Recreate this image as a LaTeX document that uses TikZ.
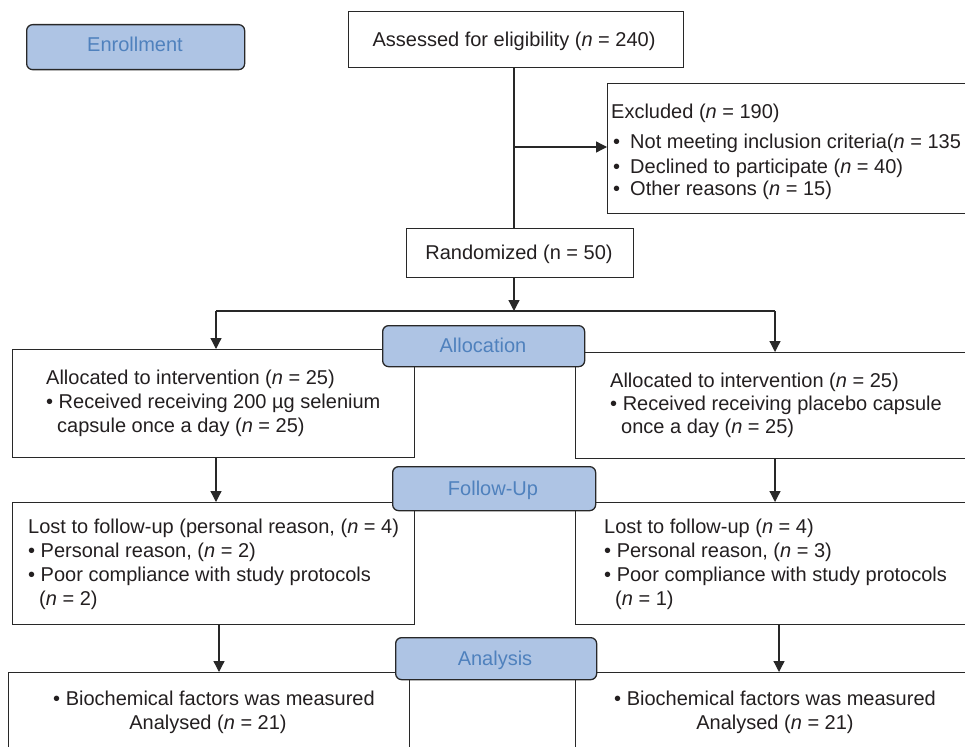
\documentclass[tikz,border=0pt]{standalone}
\usepackage{fontspec}
\setmainfont{Liberation Sans}
\usetikzlibrary{arrows.meta}
\definecolor{ln}{RGB}{40,40,40}
\definecolor{stagefill}{RGB}{174,196,228}
\definecolor{stagetext}{RGB}{79,129,189}
\definecolor{txt}{RGB}{35,31,32}
\newcommand{\nn}{\textit{n}}
\begin{document}
\begin{tikzpicture}[x=1pt,y=-1pt,
  box/.style={draw=ln, line width=1.3pt, fill=white, inner sep=0pt, anchor=north west},
  stage/.style={draw=ln, line width=1.3pt, fill=stagefill, rounded corners=6pt, inner sep=0pt, anchor=north west},
  lbl/.style={font=\fontsize{20}{23}\selectfont, text=txt, inner sep=0pt, anchor=base west},
  clbl/.style={lbl, anchor=base},
  stlbl/.style={font=\fontsize{20}{23}\selectfont, text=stagetext, inner sep=0pt, anchor=base},
  conn/.style={draw=ln, line width=1.3pt},
  arr/.style={conn, -{Triangle[length=11pt,width=11pt]}}]
\useasboundingbox (0,0) rectangle (965,746);
\clip (0,0) rectangle (965,746);
\fill[white] (0,0) rectangle (965,746);

% white boxes
\node[box, minimum width=335pt, minimum height=56pt] (assess) at (348,11) {};
\node[box, minimum width=400pt, minimum height=130pt] (excl) at (607,83) {};
\node[box, minimum width=227pt, minimum height=49pt] (rand) at (406,228) {};
\node[box, minimum width=402pt, minimum height=108pt] (allocL) at (12,349) {};
\node[box, minimum width=400pt, minimum height=106pt] (allocR) at (575,352) {};
\node[box, minimum width=402pt, minimum height=122pt] (lostL) at (12,502) {};
\node[box, minimum width=400pt, minimum height=122pt] (lostR) at (575,502) {};
\node[box, minimum width=401pt, minimum height=100pt] (finL) at (8,672) {};
\node[box, minimum width=400pt, minimum height=100pt] (finR) at (575,672) {};

% connectors
\coordinate (spine) at (514,0);
\coordinate (jx) at (514,147);
\coordinate (split) at (514,311);
\coordinate (splitL) at (216,311);
\coordinate (splitR) at (775,311);
\coordinate (colL) at (219,0);
\coordinate (colR) at (779,0);
\draw[conn] (assess.south -| spine) -- (rand.north -| spine);
\draw[arr] (jx) -- (jx -| excl.west);
\draw[arr] (rand.south -| spine) -- (split);
\draw[conn] (splitL) -- (splitR);
\draw[arr] (splitL) -- (splitL |- allocL.north);
\draw[arr] (splitR) -- (splitR |- allocR.north);
\draw[arr] (allocL.south -| splitL) -- (lostL.north -| splitL);
\draw[arr] (allocR.south -| splitR) -- (lostR.north -| splitR);
\draw[arr] (lostL.south -| colL) -- (finL.north -| colL);
\draw[arr] (lostR.south -| colR) -- (finR.north -| colR);

% stage boxes
\node[stage, minimum width=218pt, minimum height=45pt] (enroll) at (26,24) {};
\node[stage, minimum width=202pt, minimum height=41pt] (alloc) at (382,325) {};
\node[stage, minimum width=203pt, minimum height=44pt] (follow) at (392,466) {};
\node[stage, minimum width=201pt, minimum height=42pt] (analysis) at (395,637) {};

% stage labels
\node[stlbl] (tenroll) at (135,52) {Enrollment};
\node[stlbl] (talloc) at (483,352) {Allocation};
\node[stlbl] (tfollow) at (493,495) {Follow-Up};
\node[stlbl] (tanalysis) at (495,665) {Analysis};

% texts
\node[clbl] (tassess) at (514,47) {Assessed for eligibility (\nn{} = 240)};
\node[lbl] (te1) at (611,119) {Excluded (\nn{} = 190)};
\node[lbl] (te2) at (613,149) {\makebox[17pt][l]{•}Not meeting inclusion criteria(\nn{} = 135};
\node[lbl] (te3) at (613,173) {\makebox[17pt][l]{•}Declined to participate (\nn{} = 40)};
\node[lbl] (te4) at (613,195) {\makebox[17pt][l]{•}Other reasons (\nn{} = 15)};
\node[clbl] (trand) at (519,259) {Randomized (n = 50)};

\node[lbl] (tal1) at (46,384) {Allocated to intervention (\nn{} = 25)};
\node[lbl] (tal2) at (46,408) {• Received receiving 200 µg selenium};
\node[lbl] (tal3) at (57,432) {capsule once a day (\nn{} = 25)};
\node[lbl] (tar1) at (610,387) {Allocated to intervention (\nn{} = 25)};
\node[lbl] (tar2) at (610,410) {• Received receiving placebo capsule};
\node[lbl] (tar3) at (621,433) {once a day (\nn{} = 25)};

\node[lbl] (tll1) at (28,533) {Lost to follow-up (personal reason, (\nn{} = 4)};
\node[lbl] (tll2) at (28,557) {• Personal reason, (\nn{} = 2)};
\node[lbl] (tll3) at (28,581) {• Poor compliance with study protocols};
\node[lbl] (tll4) at (39,605) {(\nn{} = 2)};
\node[lbl] (tlr1) at (604,533) {Lost to follow-up (\nn{} = 4)};
\node[lbl] (tlr2) at (604,557) {• Personal reason, (\nn{} = 3)};
\node[lbl] (tlr3) at (604,581) {• Poor compliance with study protocols};
\node[lbl] (tlr4) at (615,605) {(\nn{} = 1)};

\node[clbl] (tfl1) at (214,705) {• Biochemical factors was measured};
\node[clbl] (tfl2) at (208,729) {Analysed (\nn{} = 21)};
\node[clbl] (tfr1) at (775,705) {• Biochemical factors was measured};
\node[clbl] (tfr2) at (775,729) {Analysed (\nn{} = 21)};
\end{tikzpicture}
\end{document}
